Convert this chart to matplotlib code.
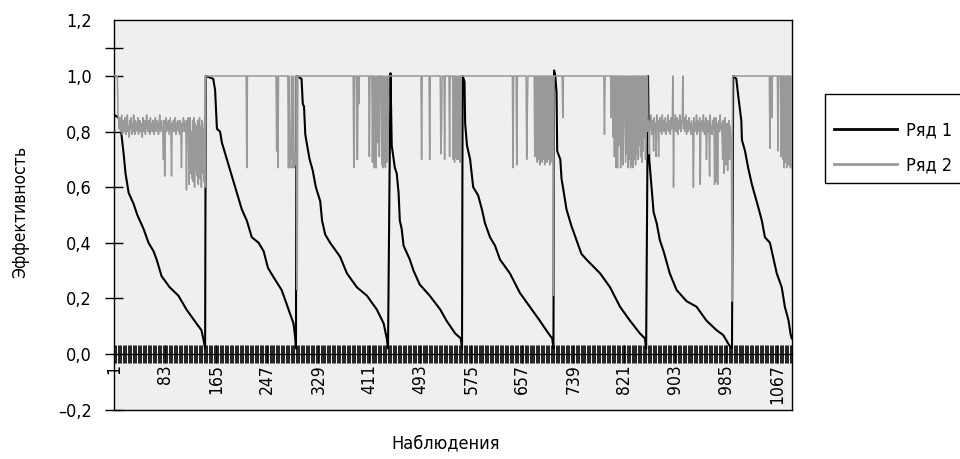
import numpy as np
import matplotlib
matplotlib.use('Agg')
from matplotlib import pyplot as plt

plt.rcParams['font.family'] = ['DejaVu Sans']
plt.rcParams['font.stretch'] = 'condensed'

n_obs = 1090

# Ряд 1: точки перегиба по сегментам (номер наблюдения, значение)
ryad1_obs = [
    1, 8, 11, 16, 19, 24, 32, 38, 48, 56, 64, 69, 77, 90, 104, 117, 133, 141, 144, 147,
    148, 160, 163, 166, 171, 174, 182, 190, 198, 206, 214, 222, 233, 241, 248, 256, 270, 278, 289, 292, 293,
    294, 302, 304, 306, 308, 311, 315, 320, 325, 332, 335, 340, 348, 364, 375, 391, 407, 423, 434, 439, 441,
    445, 447, 452, 455, 458, 460, 463, 466, 476, 482, 492, 508, 525, 535, 549, 558, 560,
    561, 564, 565, 568, 573, 578, 586, 592, 597, 605, 613, 621, 637, 653, 669, 685, 699, 705, 707,
    708, 710, 712, 713, 718, 720, 723, 728, 736, 744, 752, 760, 782, 798, 814, 830, 846, 854, 856,
    859, 860, 861, 865, 868, 873, 878, 884, 894, 905, 921, 937, 953, 969, 980, 990, 994,
    996, 1001, 1004, 1009, 1010, 1015, 1020, 1026, 1031, 1036, 1042, 1047, 1055, 1060, 1066, 1074, 1079, 1085, 1088, 1090,
]
ryad1_val = [
    0.86, 0.85, 0.82, 0.72, 0.65, 0.58, 0.54, 0.50, 0.45, 0.40, 0.37, 0.34, 0.28, 0.24, 0.21, 0.16, 0.11, 0.086, 0.056, 0.02,
    1.0, 0.99, 0.95, 0.81, 0.80, 0.76, 0.70, 0.64, 0.58, 0.52, 0.48, 0.42, 0.40, 0.37, 0.31, 0.28, 0.23, 0.18, 0.11, 0.056, 0.02,
    1.0, 0.99, 0.90, 0.89, 0.79, 0.75, 0.70, 0.66, 0.60, 0.55, 0.48, 0.43, 0.40, 0.35, 0.29, 0.24, 0.21, 0.16, 0.11, 0.056, 0.02,
    1.01, 0.75, 0.67, 0.65, 0.58, 0.48, 0.45, 0.39, 0.34, 0.30, 0.25, 0.21, 0.16, 0.12, 0.074, 0.056, 0.02,
    1.0, 0.98, 0.83, 0.75, 0.70, 0.60, 0.57, 0.52, 0.47, 0.42, 0.39, 0.34, 0.29, 0.22, 0.17, 0.12, 0.074, 0.056, 0.02,
    1.02, 1.0, 0.94, 0.73, 0.70, 0.63, 0.59, 0.52, 0.46, 0.41, 0.36, 0.34, 0.29, 0.24, 0.17, 0.12, 0.074, 0.056, 0.02,
    1.0, 0.83, 0.70, 0.59, 0.51, 0.47, 0.41, 0.37, 0.29, 0.23, 0.19, 0.17, 0.12, 0.086, 0.068, 0.03, 0.02,
    1.0, 0.99, 0.93, 0.84, 0.77, 0.73, 0.67, 0.61, 0.57, 0.53, 0.48, 0.42, 0.40, 0.35, 0.29, 0.24, 0.17, 0.12, 0.074, 0.056,
]

# Ряд 2: зашумлённые участки (подряд по наблюдениям)
band_a_start = 7
band_a = [
    0.86, 0.84, 0.81, 0.85, 0.80, 0.83, 0.86, 0.79, 0.82, 0.84,
    0.80, 0.85, 0.81, 0.79, 0.83, 0.86, 0.80, 0.82, 0.78, 0.84,
    0.81, 0.85, 0.79, 0.83, 0.80, 0.86, 0.82, 0.79, 0.84, 0.81,
    0.83, 0.80, 0.85, 0.79, 0.82, 0.84, 0.80, 0.83, 0.81, 0.78,
    0.85, 0.82, 0.80, 0.84, 0.79, 0.83, 0.86, 0.81, 0.80, 0.84,
    0.82, 0.79, 0.85, 0.81, 0.83, 0.80, 0.84, 0.82, 0.79, 0.83,
    0.85, 0.80, 0.82, 0.84, 0.81, 0.79, 0.83, 0.86, 0.80, 0.82,
    0.84, 0.81, 0.79,
    0.70, 0.84, 0.64, 0.82, 0.85, 0.80, 0.83, 0.81, 0.84, 0.79,
    0.82, 0.85, 0.80, 0.64, 0.83, 0.81, 0.84, 0.80, 0.82, 0.85,
    0.79, 0.83, 0.81, 0.84, 0.80, 0.82, 0.79, 0.84, 0.81, 0.67,
    0.83, 0.80, 0.85, 0.82, 0.84, 0.80, 0.83, 0.59, 0.84, 0.80,
    0.85, 0.61, 0.82, 0.85, 0.65, 0.80, 0.63, 0.84, 0.62, 0.85,
    0.60, 0.83, 0.66, 0.82, 0.64, 0.84, 0.61, 0.80, 0.85, 0.63,
    0.82, 0.60, 0.84, 0.65, 0.81, 0.62, 0.83, 0.60,
]
band_g_start = 857
band_g = [
    0.86, 1.00, 0.80, 0.84, 0.72, 0.83, 0.81, 0.86, 0.79, 0.84,
    0.82, 0.73, 0.85, 0.80, 0.83, 0.71, 0.86, 0.81, 0.84, 0.71,
    0.82, 0.85, 0.80, 0.83, 0.79, 0.86, 0.81, 0.84, 0.80, 0.82,
    0.85, 0.79, 0.83, 0.81, 0.86, 0.80, 0.84, 0.82, 0.79, 0.85,
    0.81, 0.83, 1.00, 0.60, 0.84, 0.81, 0.86, 0.80, 0.83, 0.85,
    0.79, 0.84, 0.81, 0.86, 0.82, 0.80, 0.84, 0.83, 1.00, 0.81,
    0.85, 0.80, 0.83, 0.86, 0.79, 0.84, 0.82, 0.80, 0.85, 0.81,
    0.83, 0.79, 0.84, 0.82, 0.80, 0.60, 0.85, 0.80, 0.83, 0.81,
    0.86, 0.79, 0.84, 0.82, 0.80, 0.85, 0.61, 0.83, 0.81, 0.84,
    0.80, 0.86, 0.82, 0.79, 0.83, 0.85, 0.70, 0.81, 0.84, 0.80,
    0.83, 0.64, 0.86, 0.80, 0.82, 0.79, 0.84, 0.81, 0.85, 0.61,
    0.80, 0.85, 0.62, 0.83, 0.61, 0.82, 0.84, 0.80, 0.86, 0.81,
    0.83, 0.79, 0.70, 0.84, 0.65, 0.82, 0.85, 0.68, 0.80, 0.83,
    0.66, 0.81, 0.84, 0.70, 0.82, 0.78, 0.75, 0.19,
]

# Ряд 2: провалы на участках, где значение равно 1
dip_obs = [
    214, 262, 264, 281, 283, 284, 285, 287, 288, 290, 291, 292, 293, 295,
    386, 391, 392, 394, 411, 416, 419, 421, 422, 424, 427, 431, 433, 434, 436, 437, 439, 441,
    495, 508, 526, 527, 532, 540, 546, 548, 550, 552, 553, 555, 557,
    642, 648, 664, 665, 677, 681, 683, 685, 687, 689, 691, 693, 695, 697, 699, 701, 703, 705, 707,
    722, 789, 800, 803, 805, 808, 810, 813, 815, 817, 819, 822, 823, 825, 827, 829, 831, 833,
    835, 837, 839, 841, 843, 845, 847, 849, 851, 853, 855,
    1055, 1058, 1068, 1073, 1076, 1078, 1080, 1082, 1084, 1086, 1088, 1090,
]
dip_val = [
    0.67, 0.73, 0.67, 0.67, 0.67, 0.75, 0.70, 0.67, 0.69, 0.67, 0.72, 0.68, 0.70, 0.23,
    0.67, 0.70, 0.70, 0.90, 0.71, 0.69, 0.67, 0.68, 0.67, 0.76, 0.71, 0.68, 0.67, 0.70, 0.68, 0.67, 0.69, 0.70,
    0.70, 0.70, 0.72, 0.80, 0.70, 0.71, 0.70, 0.69, 0.71, 0.70, 0.72, 0.70, 0.69,
    0.67, 0.68, 0.70, 0.88, 0.71, 0.69, 0.70, 0.68, 0.71, 0.69, 0.70, 0.68, 0.72, 0.69, 0.70, 0.68, 0.71, 0.69, 0.21,
    0.85, 0.79, 0.85, 0.78, 0.71, 0.67, 0.67, 0.75, 0.67, 0.70, 0.68, 0.85, 0.69, 0.72, 0.67, 0.70, 0.67, 0.68,
    0.67, 0.70, 0.68, 0.72, 0.70, 0.75, 0.71, 0.69, 0.73, 0.78, 0.70,
    0.74, 0.85, 0.73, 0.71, 0.70, 0.67, 0.69, 0.67, 0.70, 0.68, 0.67, 0.67,
]

ytick_vals = [-0.2, 0.0, 0.2, 0.4, 0.6, 0.8, 1.0, 1.1, 1.2]
ytick_text = ['\u20130,2', '0,0', '0,2', '0,4', '0,6', '0,8', '1,0', '', '1,2']
xlabel_obs = list(range(1, 1068, 82))


def build_ryad2():
    vals = np.ones(n_obs)
    vals[band_a_start - 1:band_a_start - 1 + len(band_a)] = band_a
    vals[band_g_start - 1:band_g_start - 1 + len(band_g)] = band_g
    for o, v in zip(dip_obs, dip_val):
        vals[o - 1] = v
    return vals


def draw_chart():
    obs = np.arange(1, n_obs + 1)
    ryad2 = build_ryad2()

    fig = plt.figure(figsize=(9.6, 4.59), dpi=100)
    ax = fig.add_axes([114 / 960, 1 - 409.6 / 459, 678 / 960, 389.2 / 459])
    ax.set_facecolor('#efefef')

    ax.plot(ryad1_obs, ryad1_val, color='black', lw=1.5, label='Ряд 1', zorder=3)
    ax.plot(obs, ryad2, color='#999999', lw=1.1, label='Ряд 2', zorder=4)

    ax.set_xlim(0.5, n_obs + 0.5)
    ax.set_ylim(-0.2, 1.2)
    ax.set_xticks([])
    ax.set_yticks(ytick_vals, labels=ytick_text)
    ax.tick_params(axis='y', direction='inout', length=13, width=1, pad=9.5, labelsize=13)
    ax.yaxis.get_major_ticks()[-1].tick1line.set_visible(False)
    for s in ax.spines.values():
        s.set_color('black')
        s.set_linewidth(1)

    # ось категорий проходит через ноль
    ax2 = ax.secondary_xaxis(0.2 / 1.4)
    ax2.spines['bottom'].set_linewidth(1)
    ax2.set_xticks(xlabel_obs, labels=[str(v) for v in xlabel_obs])
    ax2.set_xticks(np.arange(0.5, n_obs + 1, 2), minor=True)
    ax2.tick_params(which='both', direction='inout', length=13, width=0.6, pad=1)
    ax2.tick_params(which='major', labelrotation=90, labelsize=12.5)

    fig.text(20 / 960, 1 - 212 / 459, 'Эффективность', rotation=90, ha='center', va='center', fontsize=12.5)
    fig.text(446 / 960, 1 - 443 / 459, 'Наблюдения', ha='center', va='center', fontsize=13)

    # пустой заголовок даёт отступ сверху, как в исходной легенде
    leg = ax.legend(loc='upper left', bbox_to_anchor=(825 / 960, 1 - 94 / 459),
                    bbox_transform=fig.transFigure, fontsize=13, frameon=True,
                    fancybox=False, handlelength=3.5, labelspacing=0.94,
                    borderpad=0.5, handletextpad=0.5, borderaxespad=0,
                    title=' ', title_fontsize=1)
    leg.get_frame().set_edgecolor('black')
    leg.get_frame().set_linewidth(1)
    leg.get_frame().set_alpha(1)
    for line in leg.get_lines():
        line.set_linewidth(2)

    fig.savefig('out.png', dpi=100)


if __name__ == "__main__":
    draw_chart()
